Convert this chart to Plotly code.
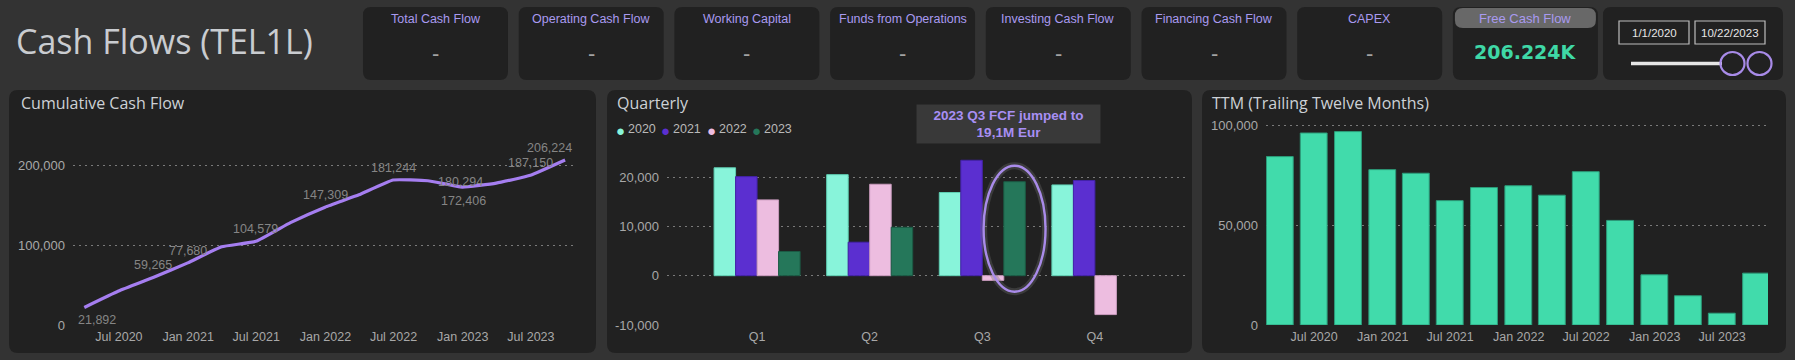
import plotly.graph_objects as go

W, H = 1795, 360

# ---------------- data ----------------
kpi_titles = ["Total Cash Flow", "Operating Cash Flow", "Working Capital", "Funds from Operations",
              "Investing Cash Flow", "Financing Cash Flow", "CAPEX", "Free Cash Flow"]
kpi_values = ["-", "-", "-", "-", "-", "-", "-", "206.224K"]
date_from = "1/1/2020"
date_to = "10/22/2023"

quarter_ends = ["2020-03-31", "2020-06-30", "2020-09-30", "2020-12-31",
                "2021-03-31", "2021-06-30", "2021-09-30", "2021-12-31",
                "2022-03-31", "2022-06-30", "2022-09-30", "2022-12-31",
                "2023-03-31", "2023-06-30", "2023-09-30"]
cumulative_fcf = [21892, 42392, 59265, 77680, 97780, 104579, 127999, 147309,
                  162689, 181244, 180294, 172406, 177316, 187150, 206224]
cumulative_labels = ["21,892", "", "59,265", "77,680", "", "104,579", "", "147,309",
                     "", "181,244", "180,294", "172,406", "", "187,150", "206,224"]

quarters = ["Q1", "Q2", "Q3", "Q4"]
years = ["2020", "2021", "2022", "2023"]
fcf_2020 = [21892, 20500, 16873, 18415]
fcf_2021 = [20100, 6799, 23420, 19310]
fcf_2022 = [15380, 18555, -950, -7888]
fcf_2023 = [4910, 9834, 19074, None]

ttm_fcf = [84200, 96000, 96700, 77680, 75888, 62187, 68734, 69629,
           64909, 76665, 52295, 25097, 14627, 5906, 25930]

cum_tickvals = [0, 100000, 200000]
cum_ticktext = ["0", "100,000", "200,000"]
q_tickvals = [-10000, 0, 10000, 20000]
q_ticktext = ["-10,000", "0", "10,000", "20,000"]
ttm_tickvals = [0, 50000, 100000]
ttm_ticktext = ["0", "50,000", "100,000"]

callout_text = "2023 Q3 FCF jumped to<br>19,1M Eur"

# ---------------- styles ----------------
BG = "#333333"
PANEL = "#212121"
TXT_FONT = "Liberation Sans, Arial, sans-serif"
TITLE_FONT = "Open Sans, Noto Sans, sans-serif"
TICK_COLOR = "#a8a8a8"
GRID_COLOR = "#7a7a7a"
LAVENDER = "#a99af0"
year_colors = ["#88f4da", "#5b2fd0", "#edbde0", "#25775a"]
year_lines = ["#5fcfb3", "#4322a8", "#c99bbd", "#1b5a44"]


def px(x):
    return x / W


def py(y):
    return 1 - y / H


def rrect_path(x0, y0, x1, y1, r):
    X = lambda v: f"{v / W:.6f}"
    Y = lambda v: f"{1 - v / H:.6f}"
    return (f"M {X(x0 + r)},{Y(y0)} L {X(x1 - r)},{Y(y0)} Q {X(x1)},{Y(y0)} {X(x1)},{Y(y0 + r)} "
            f"L {X(x1)},{Y(y1 - r)} Q {X(x1)},{Y(y1)} {X(x1 - r)},{Y(y1)} L {X(x0 + r)},{Y(y1)} "
            f"Q {X(x0)},{Y(y1)} {X(x0)},{Y(y1 - r)} L {X(x0)},{Y(y0 + r)} Q {X(x0)},{Y(y0)} {X(x0 + r)},{Y(y0)} Z")


shapes = []
annotations = []


def panel(x0, y0, x1, y1, color=PANEL, r=9):
    shapes.append(dict(type="path", path=rrect_path(x0, y0, x1, y1, r), xref="paper", yref="paper",
                       fillcolor=color, line=dict(width=0), layer="below"))


def text(x, y, s, size, color, family=TXT_FONT, xanchor="center", yanchor="middle", **kw):
    annotations.append(dict(x=px(x), y=py(y), xref="paper", yref="paper", text=s, showarrow=False,
                            xanchor=xanchor, yanchor=yanchor,
                            font=dict(size=size, color=color, family=family), **kw))


# ---------------- figure ----------------
fig = go.Figure()

fig.add_trace(go.Scatter(x=quarter_ends, y=cumulative_fcf, mode="lines",
                         line=dict(color="#a57ef0", width=3.2, shape="spline", smoothing=0.35),
                         xaxis="x", yaxis="y", hoverinfo="skip", showlegend=False))

for yr, vals, col, lc in zip(years, [fcf_2020, fcf_2021, fcf_2022, fcf_2023], year_colors, year_lines):
    fig.add_trace(go.Bar(x=quarters, y=vals, name=yr, marker=dict(color=col, line=dict(color=lc, width=1)),
                         xaxis="x2", yaxis="y2", hoverinfo="skip", showlegend=False))

fig.add_trace(go.Bar(x=quarter_ends, y=ttm_fcf, marker=dict(color="#41dbab", line=dict(color="#2c9c7a", width=1)),
                     width=72 * 86400000, xaxis="x3", yaxis="y3", hoverinfo="skip", showlegend=False))

# ---------------- background panels & cards ----------------
panel(9, 90, 596, 353)
panel(607, 90, 1192, 353)
panel(1202, 90, 1786, 353)

card_x0 = 363
card_step = 155.7
card_w = 145
for i, (t, v) in enumerate(zip(kpi_titles, kpi_values)):
    x0 = card_x0 + i * card_step
    x1 = x0 + card_w
    cx = (x0 + x1) / 2
    panel(x0, 7, x1, 80, r=8)
    if t == "Free Cash Flow":
        panel(x0 + 2, 8, x1 - 2, 28, color="#686868", r=8)
        text(cx, 18, t, 13, LAVENDER)
        text(cx, 52, f"<b>{v}</b>", 19, "#3fd8a6", family="DejaVu Sans, sans-serif")
    else:
        text(cx, 19, t, 12.5, LAVENDER)
        text(cx, 53, v, 22, "#a3a3a3")

panel(1603, 7, 1783, 80, r=8)
for (bx0, bx1), s in zip([(1619, 1689), (1695, 1765)], [date_from, date_to]):
    shapes.append(dict(type="rect", xref="paper", yref="paper", x0=px(bx0), x1=px(bx1), y0=py(44), y1=py(21),
                       line=dict(color="#bdbdbd", width=1.2), fillcolor="rgba(0,0,0,0)", layer="above"))
    text((bx0 + bx1) / 2, 32.5, s, 11.5, "#e6e6e6")
shapes.append(dict(type="line", xref="paper", yref="paper", x0=px(1631), x1=px(1722), y0=py(63.5), y1=py(63.5),
                   line=dict(color="#e6e6e6", width=3.5), layer="above"))
for cx in [1732.5, 1759.5]:
    shapes.append(dict(type="circle", xref="paper", yref="paper", x0=px(cx - 12), x1=px(cx + 12),
                       y0=py(63.5 + 11.5), y1=py(63.5 - 11.5),
                       line=dict(color="#a88be8", width=2.2), fillcolor="rgba(0,0,0,0)", layer="above"))

text(14, 41, "Cash Flows (TEL1L)", 34, "#c9ccd0", family=TITLE_FONT, xanchor="left")

text(19, 103, "Cumulative Cash Flow", 16, "#cdd1d6", family=TITLE_FONT, xanchor="left")
text(615, 103, "Quarterly", 16, "#cdd1d6", family=TITLE_FONT, xanchor="left")
text(1210, 103, "TTM (Trailing Twelve Months)", 16, "#cdd1d6", family=TITLE_FONT, xanchor="left")

leg_x = [620, 665, 711, 756]
for lx, yr, col in zip(leg_x, years, year_colors):
    text(lx, 130, "●", 15, col)
    text(lx + 6, 129, yr, 12.5, "#b9b9b9", xanchor="left")

annotations.append(dict(x=px(1008), y=py(124), xref="paper", yref="paper", text=f"<b>{callout_text}</b>",
                        showarrow=False, xanchor="center", yanchor="middle", bgcolor="#393939",
                        width=181, height=36, borderpad=1, align="center",
                        font=dict(size=13.5, color="#a88ff4", family=TXT_FONT)))

q3_val = fcf_2023[2]
slot = (1 - 0.236) / 4
xc = 2 - (1 - 0.236) / 2 + slot * 3.5
for w_, col_ in [(7, "rgba(110,110,110,0.35)"), (2.4, "#a98be9")]:
    shapes.append(dict(type="circle", xref="x2", yref="y2", x0=xc - 0.275, x1=xc + 0.275,
                       y0=q3_val / 2 - q3_val * 0.67, y1=q3_val / 2 + q3_val * 0.67,
                       line=dict(color=col_, width=w_), fillcolor="rgba(0,0,0,0)", layer="above"))

label_offsets = {0: (13, -12.5), 2: (0, 12.5), 3: (0, 12), 5: (0, 12), 7: (0, 12), 9: (0, 12),
                 10: (33, -1), 11: (1, -14), 13: (0, 12), 14: (-16, 12)}
for i, lab in enumerate(cumulative_labels):
    if lab:
        dx, dy = label_offsets.get(i, (0, 12))
        annotations.append(dict(x=quarter_ends[i], y=cumulative_fcf[i], xref="x", yref="y", text=lab,
                                showarrow=False, xshift=dx, yshift=dy, xanchor="center", yanchor="middle",
                                font=dict(size=12.5, color="#858585", family=TXT_FONT)))

tickfont = dict(size=12.5, color=TICK_COLOR, family=TXT_FONT)
ytickfont = dict(size=13, color=TICK_COLOR, family=TXT_FONT)
grid = dict(showgrid=True, gridcolor=GRID_COLOR, griddash="2px,4px", gridwidth=1, zeroline=False,
            showline=False, automargin=False, ticklabelstandoff=7)
date_x = dict(type="date", tickformat="%b %Y", dtick="M6", tick0="2020-01-01", showgrid=False,
              zeroline=False, showline=False, tickfont=tickfont, ticks="", automargin=False,
              ticklabelstandoff=2)

fig.update_layout(
    width=W, height=H, margin=dict(l=0, r=0, t=0, b=0, pad=0, autoexpand=False),
    paper_bgcolor=BG, plot_bgcolor="rgba(0,0,0,0)",
    showlegend=False, barmode="group", bargap=0.236, bargroupgap=0,
    xaxis=dict(domain=[px(73), px(576)], anchor="y", range=["2020-03-01", "2023-10-29"], **date_x),
    yaxis=dict(domain=[py(325), py(125)], anchor="x", range=[0, 250000], tickvals=cum_tickvals,
               ticktext=cum_ticktext, tickfont=ytickfont, ticks="", **grid),
    xaxis2=dict(domain=[px(667), px(1185)], anchor="y2", type="category", range=[-0.8, 3.8],
                showgrid=False, zeroline=False, showline=False, tickfont=tickfont, ticks="", automargin=False,
                ticklabelstandoff=2),
    yaxis2=dict(domain=[py(325), py(150)], anchor="x2", range=[-10000, 25500], tickvals=q_tickvals,
                ticktext=q_ticktext, tickfont=ytickfont, ticks="", **grid),
    xaxis3=dict(domain=[px(1266), px(1768)], anchor="y3", range=["2020-02-23", "2023-11-01"], **date_x),
    yaxis3=dict(domain=[py(325), py(118)], anchor="x3", range=[0, 103500], tickvals=ttm_tickvals,
                ticktext=ttm_ticktext, tickfont=ytickfont, ticks="", **grid),
    shapes=shapes, annotations=annotations,
)

fig.write_html("out.html", config={"displayModeBar": False},
               post_script="document.body.style.margin='0';document.body.style.overflow='hidden';")
